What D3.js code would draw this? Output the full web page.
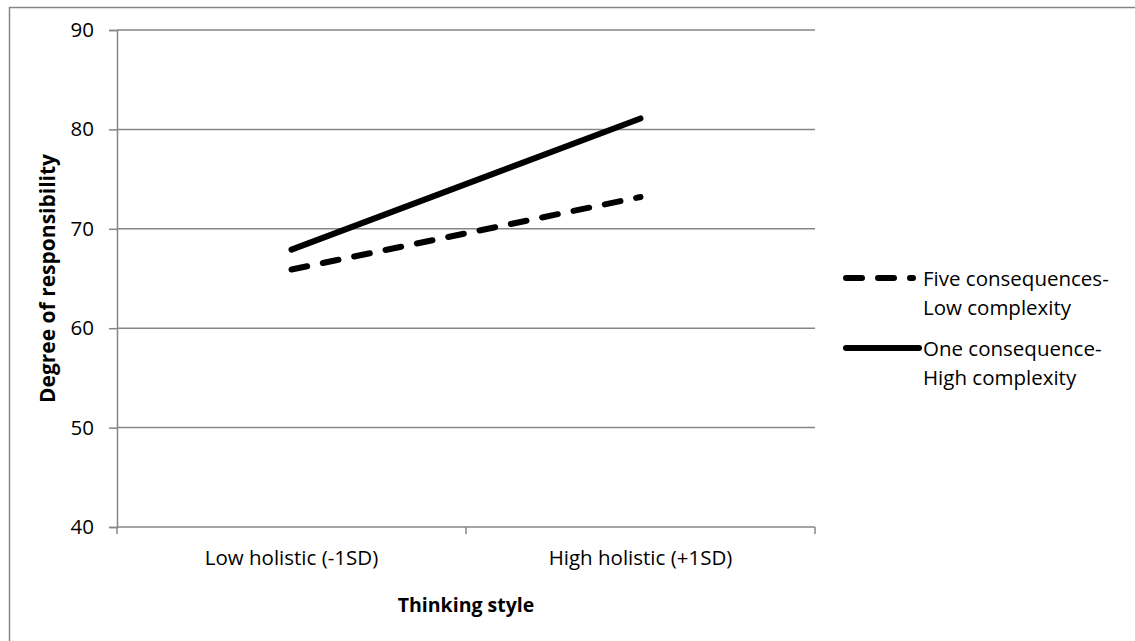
<!DOCTYPE html>
<html>
<head>
<meta charset="utf-8">
<script src="https://cdn.jsdelivr.net/npm/d3@7"></script>
<style>
  html, body { margin: 0; padding: 0; background: #fff; }
  svg { display: block; }
  text { font-family: "Open Sans", "Noto Sans", sans-serif; fill: #000; }
</style>
</head>
<body>
<svg id="chart" width="1135" height="641"></svg>
<script>
const categories = ["Low holistic (-1SD)", "High holistic (+1SD)"];
const seriesNames = ["Five consequences-\nLow complexity", "One consequence-\nHigh complexity"];
const fiveLow = [65.9, 73.2];
const oneHigh = [67.9, 81.1];
const yTicks = [40, 50, 60, 70, 80, 90];
const xTitle = "Thinking style";
const yTitle = "Degree of responsibility";

const series = [
  { name: seriesNames[0], values: fiveLow, dash: "16,16", legEnd: 913 },
  { name: seriesNames[1], values: oneHigh, dash: null, legEnd: 919 }
];

const svg = d3.select("#chart");
const plot = { left: 117, right: 815, top: 30, bottom: 527 };
const grey = "#868686";
const fs = "20.5px";

// outer chart border (right/bottom edges fall outside the picture)
svg.append("rect")
  .attr("x", 9.5).attr("y", 7.5)
  .attr("width", 1200).attr("height", 700)
  .attr("fill", "#fff").attr("stroke", grey).attr("stroke-width", 1.5);

const x = d3.scaleBand().domain(categories).range([plot.left, plot.right]);
const y = d3.scaleLinear().domain([40, 90]).range([plot.bottom, plot.top]);

// gridlines
svg.append("g").selectAll("line").data(yTicks.filter(t => t !== 40)).join("line")
  .attr("x1", plot.left).attr("x2", plot.right)
  .attr("y1", d => y(d)).attr("y2", d => y(d))
  .attr("stroke", grey).attr("stroke-width", 1.5);

// y axis
const yAxis = svg.append("g").attr("transform", `translate(${plot.left},0)`)
  .call(d3.axisLeft(y).tickValues(yTicks).tickSize(8).tickPadding(15));
yAxis.select(".domain").attr("stroke", grey).attr("stroke-width", 1.5);
yAxis.selectAll(".tick line").attr("stroke", grey).attr("stroke-width", 1.5);
yAxis.selectAll(".tick text").style("font-size", fs).style("font-family", "\"Open Sans\", sans-serif").attr("fill", "#000");

// x axis with boundary ticks
const xAxisG = svg.append("g").attr("transform", `translate(0,${plot.bottom})`);
xAxisG.append("line").attr("x1", plot.left).attr("x2", plot.right)
  .attr("stroke", grey).attr("stroke-width", 1.5);
const bounds = [plot.left, ...categories.map(c => x(c) + x.bandwidth())];
xAxisG.selectAll("line.tk").data(bounds).join("line").attr("class", "tk")
  .attr("x1", d => d).attr("x2", d => d).attr("y1", 0).attr("y2", 7)
  .attr("stroke", grey).attr("stroke-width", 1.5);
xAxisG.selectAll("text").data(categories).join("text")
  .attr("x", d => x(d) + x.bandwidth() / 2).attr("y", 38)
  .attr("text-anchor", "middle").style("font-size", fs)
  .text(d => d);

// axis titles
svg.append("text").attr("x", (plot.left + plot.right) / 2).attr("y", 612)
  .attr("text-anchor", "middle").style("font-size", "19.5px").style("font-weight", "bold")
  .text(xTitle);
svg.append("text").attr("transform", `translate(55,${(plot.top + plot.bottom) / 2}) rotate(-90)`)
  .attr("text-anchor", "middle").style("font-size", "21px").style("font-weight", "bold")
  .text(yTitle);

// series lines
const line = d3.line().x((d, i) => x(categories[i]) + x.bandwidth() / 2).y(d => y(d));
svg.append("g").selectAll("path").data(series).join("path")
  .attr("d", d => line(d.values))
  .attr("fill", "none").attr("stroke", "#000").attr("stroke-width", 6)
  .attr("stroke-linecap", "round")
  .attr("stroke-dasharray", d => d.dash);

// legend
const legend = svg.append("g");
const legY = [278, 348];
series.forEach((s, i) => {
  const g = legend.append("g").attr("transform", `translate(0,${legY[i]})`);
  g.append("line").attr("x1", 846).attr("x2", s.legEnd).attr("y1", 0).attr("y2", 0)
    .attr("stroke", "#000").attr("stroke-width", 6).attr("stroke-linecap", "round")
    .attr("stroke-dasharray", s.dash);
  const t = g.append("text").attr("x", 923).attr("y", 8).style("font-size", fs);
  s.name.split("\n").forEach((ln, j) => {
    t.append("tspan").attr("x", 923).attr("dy", j === 0 ? 0 : 29).text(ln);
  });
});
</script>
</body>
</html>
